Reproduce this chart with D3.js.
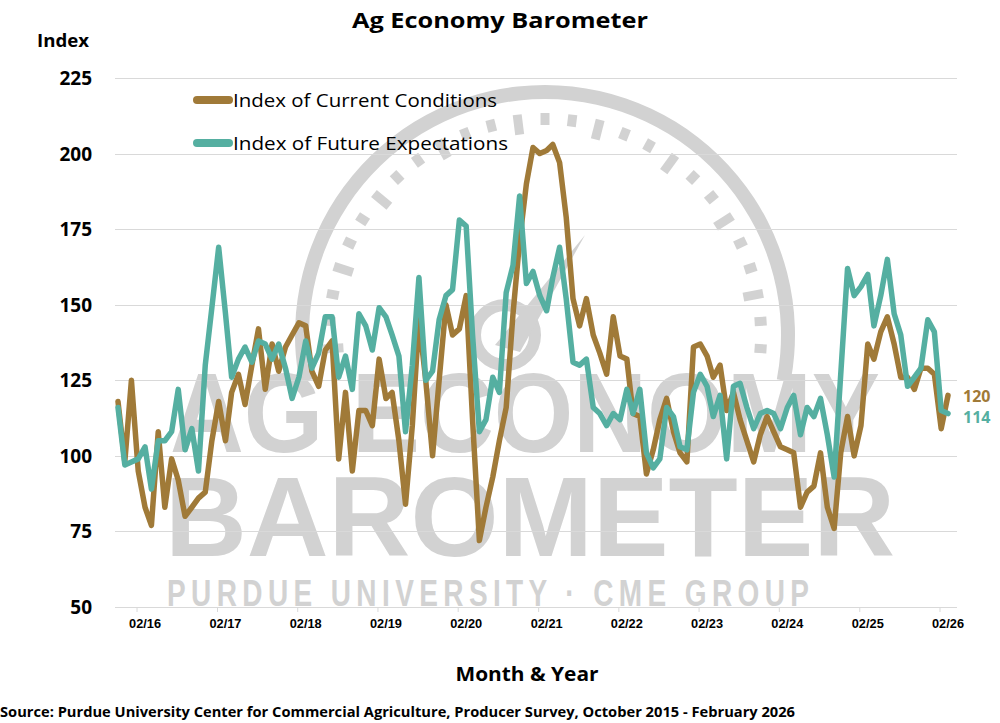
<!DOCTYPE html>
<html>
<head>
<meta charset="utf-8">
<script src="https://cdn.jsdelivr.net/npm/d3@7"></script>
<style>
  html, body { margin: 0; padding: 0; background: #fff; }
  svg { display: block; }
</style>
</head>
<body>
<svg id="chart" width="1000" height="723"></svg>
<script>
// ---- data ----
const startMonth = "2015-10";   // first survey month
const currentConditions = [
  118, 98, 125, 95, 83, 77, 108, 83, 99, 92, 80, 83, 86, 88, 105, 118, 105, 121, 127, 117,
  130, 142, 122, 137, 128, 136, 140, 144, 143, 128, 123, 135, 138, 99, 121, 95, 115, 115, 110, 132,
  119, 121, 105, 84, 110, 145, 125, 100, 125, 150, 140, 142, 153, 112, 72, 83, 93, 105, 116, 147,
  171, 190, 202, 200, 201, 203, 197, 179, 152, 143, 152, 140, 134, 127, 146, 133, 132, 114, 113, 94,
  102, 112, 119, 108, 101, 98, 136, 137, 133, 126, 130, 115, 121, 112, 105, 98, 107, 113, 108, 103,
  102, 101, 83, 88, 90, 101, 83, 76, 101, 113, 100, 110, 137, 132, 141, 146, 137, 126, 126, 122,
  129, 129, 127, 109, 120
];
const futureExpectations = [
  116, 97, 98, 99, 103, 89, 105, 105, 108, 122, 102, 109, 95, 130, 149, 169, 147, 126, 132, 136,
  131, 138, 137, 132, 137, 129, 119, 126, 138, 129, 134, 146, 146, 126, 133, 122, 147, 143, 135, 149,
  146, 140, 133, 108, 130, 159, 125, 128, 145, 153, 155, 178, 176, 140, 108, 112, 126, 121, 154, 163,
  186, 157, 161, 153, 148, 159, 169, 152, 131, 130, 132, 116, 114, 110, 114, 112, 122, 114, 122, 101,
  96, 99, 116, 113, 103, 102, 121, 127, 123, 113, 120, 99, 123, 124, 116, 109, 114, 115, 114, 109,
  116, 120, 107, 116, 113, 119, 107, 93, 127, 162, 153, 156, 160, 143, 153, 165, 147, 140, 123, 126,
  129, 145, 141, 115, 114
];
const yTicks = [50, 75, 100, 125, 150, 175, 200, 225];
const xTickLabels = ["02/16","02/17","02/18","02/19","02/20","02/21","02/22","02/23","02/24","02/25","02/26"];
const seriesNames = ["Index of Current Conditions", "Index of Future Expectations"];
const endLabels = ["120", "114"];
const titleText = "Ag Economy Barometer";
const yAxisTitle = "Index";
const xAxisTitle = "Month & Year";
const sourceText = "Source: Purdue University Center for Commercial Agriculture, Producer Survey, October 2015 - February 2026";

// ---- setup ----
const colors = ["#A07A38", "#55AFA1"];
const svg = d3.select("#chart");
const parseM = d3.timeParse("%Y-%m");
const t0 = parseM(startMonth);
const dates = currentConditions.map((_, i) => d3.timeMonth.offset(t0, i));
const tickDates = xTickLabels.map(s => parseM("20" + s.slice(3) + "-" + s.slice(0, 2)));

const x = d3.scaleTime().domain([dates[0], dates[dates.length - 1]]).range([118, 948]);
const y = d3.scaleLinear().domain([50, 225]).range([607, 78]);
const gridX0 = 115, gridX1 = 957;

// ---- watermark ----
const wmColor = "#d2d2d2";
const wm = svg.append("g").attr("fill", wmColor).attr("stroke", "none");
const cx = 545, cy = 335, R = 250;
const arcGen = d3.arc();
wm.append("path")
  .attr("transform", `translate(${cx},${cy})`)
  .attr("d", arcGen({innerRadius: R - 14, outerRadius: R, startAngle: -Math.PI * 0.56, endAngle: Math.PI * 0.56}));
const nT = 26;
for (let k = 0; k <= nT; k++) {
  const a = -Math.PI * 0.52 + k * (Math.PI * 1.04 / nT);
  const r1 = R - 40, r2 = R - 28;
  const long = (k % 3 === 0);
  wm.append("line")
    .attr("x1", cx + Math.sin(a) * (long ? r1 - 8 : r1)).attr("y1", cy - Math.cos(a) * (long ? r1 - 8 : r1))
    .attr("x2", cx + Math.sin(a) * r2).attr("y2", cy - Math.cos(a) * r2)
    .attr("stroke", wmColor).attr("stroke-width", 9);
}
wm.append("circle").attr("cx", 505).attr("cy", 335).attr("r", 30).attr("fill", "none")
  .attr("stroke", wmColor).attr("stroke-width", 12);
wm.append("path").attr("d", "M495,345 L585,235 L520,352 Z");
wm.append("text").attr("transform", "translate(525,452) scale(1,1.25)").attr("text-anchor", "middle")
  .attr("font-family", "'Liberation Sans', Arial, sans-serif").attr("font-weight", "bold")
  .attr("font-size", 90).attr("textLength", 710).attr("lengthAdjust", "spacingAndGlyphs")
  .text("AG ECONOMY");
wm.append("text").attr("transform", "translate(530,556) scale(1,1.25)").attr("text-anchor", "middle")
  .attr("font-family", "'Liberation Sans', Arial, sans-serif").attr("font-weight", "bold")
  .attr("font-size", 90).attr("textLength", 730).attr("lengthAdjust", "spacingAndGlyphs")
  .text("BAROMETER");
wm.append("text").attr("transform", "translate(491,606) scale(1,1.3)").attr("text-anchor", "middle")
  .attr("font-family", "'Liberation Sans Narrow', 'Liberation Sans', sans-serif").attr("font-weight", "bold")
  .attr("font-size", 28).attr("textLength", 648).attr("lengthAdjust", "spacing")
  .attr("letter-spacing", 6)
  .text("PURDUE UNIVERSITY · CME GROUP");

// ---- gridlines ----
svg.append("g").selectAll("line").data(yTicks).join("line")
  .attr("x1", gridX0).attr("x2", gridX1)
  .attr("y1", d => Math.round(y(d)) + 0.5).attr("y2", d => Math.round(y(d)) + 0.5)
  .attr("stroke", "#d9d9d9").attr("stroke-width", 1);

// y tick labels
svg.append("g").selectAll("text").data(yTicks).join("text")
  .attr("x", 92).attr("y", d => y(d) + 7)
  .attr("text-anchor", "end")
  .attr("font-family", "'Open Sans', sans-serif").attr("font-weight", "bold").attr("font-size", 19)
  .attr("fill", "#000")
  .text(d => d);

// x axis ticks/labels
const xg = svg.append("g");
xg.selectAll("line").data(tickDates).join("line")
  .attr("x1", d => x(d) - 8).attr("x2", d => x(d) - 8)
  .attr("y1", 608).attr("y2", 612)
  .attr("stroke", "#d9d9d9");
xg.selectAll("text").data(tickDates).join("text")
  .attr("x", d => x(d)).attr("y", 628)
  .attr("text-anchor", "middle")
  .attr("font-family", "'Liberation Sans Narrow', 'Liberation Sans', sans-serif").attr("font-weight", "bold").attr("font-size", 13)
  .attr("textLength", 32).attr("lengthAdjust", "spacingAndGlyphs")
  .attr("fill", "#000")
  .text((d, i) => xTickLabels[i]);

// ---- lines ----
const line = d3.line().x((d, i) => x(dates[i])).y(d => y(d)).curve(d3.curveLinear);
[currentConditions, futureExpectations].forEach((s, k) => {
  svg.append("path").datum(s)
    .attr("d", line)
    .attr("fill", "none").attr("stroke", colors[k]).attr("stroke-width", 5.5)
    .attr("stroke-linejoin", "round").attr("stroke-linecap", "round");
});

// end labels
[currentConditions, futureExpectations].forEach((s, k) => {
  svg.append("text")
    .attr("x", 963).attr("y", k === 0 ? 402 : 423)
    .attr("font-family", "'Open Sans', sans-serif").attr("font-weight", "bold").attr("font-size", 16)
    .attr("fill", colors[k])
    .text(endLabels[k]);
});

// ---- legend ----
const leg = svg.append("g");
seriesNames.forEach((name, k) => {
  const ly = 100 + k * 43;
  leg.append("line").attr("x1", 197).attr("x2", 229).attr("y1", ly).attr("y2", ly)
    .attr("stroke", colors[k]).attr("stroke-width", 8).attr("stroke-linecap", "round");
  leg.append("text").attr("x", 233).attr("y", ly + 7)
    .attr("font-family", "'Open Sans', sans-serif").attr("font-size", 19)
    .attr("textLength", k === 0 ? 264 : 275).attr("lengthAdjust", "spacingAndGlyphs")
    .attr("fill", "#000").text(name);
});

// ---- titles ----
svg.append("text").attr("x", 500).attr("y", 28).attr("text-anchor", "middle")
  .attr("font-family", "'Open Sans', sans-serif").attr("font-weight", "bold").attr("font-size", 21)
  .attr("textLength", 296).attr("lengthAdjust", "spacingAndGlyphs")
  .text(titleText);
svg.append("text").attr("x", 37).attr("y", 47)
  .attr("font-family", "'Open Sans', sans-serif").attr("font-weight", "bold").attr("font-size", 18)
  .attr("textLength", 52).attr("lengthAdjust", "spacingAndGlyphs")
  .text(yAxisTitle);
svg.append("text").attr("x", 527).attr("y", 681).attr("text-anchor", "middle")
  .attr("font-family", "'Open Sans', sans-serif").attr("font-weight", "bold").attr("font-size", 19)
  .attr("textLength", 143).attr("lengthAdjust", "spacingAndGlyphs")
  .text(xAxisTitle);
svg.append("text").attr("x", 0).attr("y", 717)
  .attr("font-family", "'Open Sans', sans-serif").attr("font-weight", "bold").attr("font-size", 15)
  .attr("textLength", 795).attr("lengthAdjust", "spacingAndGlyphs")
  .text(sourceText);
</script>
</body>
</html>
